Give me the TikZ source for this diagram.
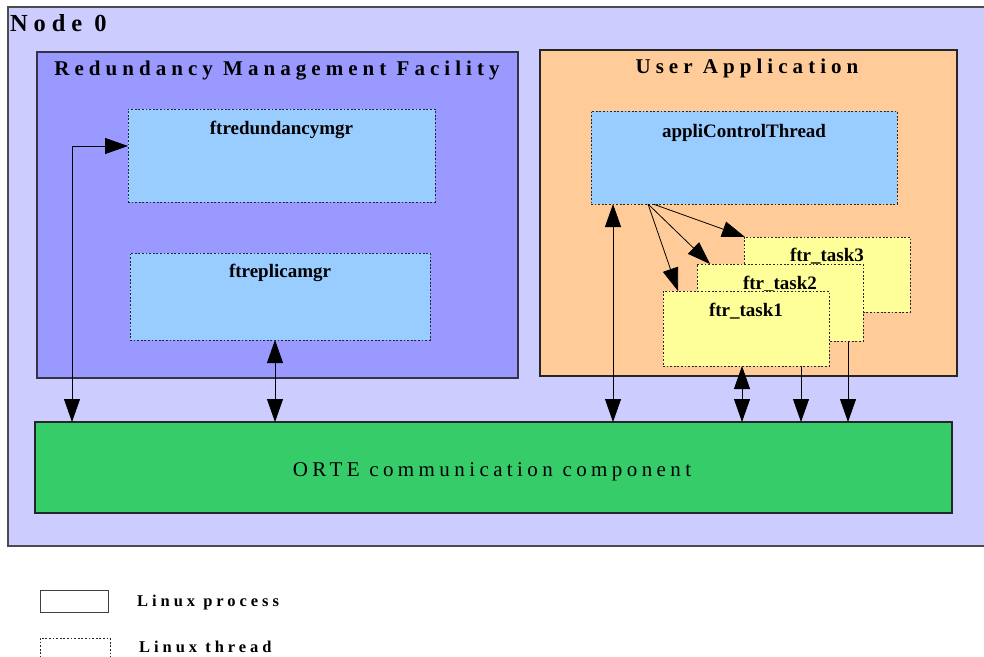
\documentclass[tikz,border=0pt]{standalone}
\usepackage{fontspec}
\setmainfont{Liberation Serif}
\newfontfamily\spacedfont[LetterSpace=24]{Liberation Serif}
\newfontfamily\widefont[LetterSpace=21]{Liberation Serif}
\usetikzlibrary{arrows.meta}
\pgfdeclarelayer{bg}
\pgfdeclarelayer{conn}
\pgfsetlayers{bg,conn,main}
\definecolor{nodebg}{HTML}{CCCCFF}
\definecolor{rmfbg}{HTML}{9999FF}
\definecolor{threadblue}{HTML}{99CCFF}
\definecolor{appbg}{HTML}{FFCC99}
\definecolor{taskbg}{HTML}{FFFF99}
\definecolor{ortebg}{HTML}{36CC6A}
\definecolor{edge}{HTML}{333344}
\tikzset{
  box/.style={draw=edge, line width=1.1pt, anchor=north west, inner sep=0pt, outer sep=0pt},
  thread/.style={draw=black!85, line width=0.9pt, dash pattern=on 1.8pt off 1.8pt,
    anchor=north west, inner sep=0pt, outer sep=0pt},
  boxtitle/.style={anchor=base, font=\spacedfont\bfseries\fontsize{21}{24}\selectfont, inner sep=0pt},
  threadname/.style={anchor=base, font=\bfseries\fontsize{19}{22}\selectfont, inner sep=0pt},
  legendtext/.style={anchor=base west, font=\spacedfont\bfseries\fontsize{16.5}{19}\selectfont, inner sep=0pt},
  onearrow/.style={line width=0.8pt, -{Triangle[length=23pt,width=16pt]}},
  twoarrow/.style={line width=0.8pt, {Triangle[length=23pt,width=16pt]}-{Triangle[length=23pt,width=16pt]}}
}
\begin{document}
\begin{tikzpicture}[x=1pt,y=-1pt]
\useasboundingbox (0,0) rectangle (984,656);
\clip (0,0) rectangle (984,656);

% containers
\begin{pgfonlayer}{bg}
  \node[box, draw=black!70, fill=nodebg, minimum width=1000, minimum height=539] (node0) at (8,7) {};
  \node[box, fill=rmfbg, minimum width=481, minimum height=326] (rmf) at (37,52) {};
  \node[box, draw=black!85, fill=appbg, minimum width=417, minimum height=326] (ua) at (540,50) {};
  \node[box, draw=black!85, fill=ortebg, minimum width=917, minimum height=91] (orte) at (35,422) {};
\end{pgfonlayer}

\node[anchor=base west, inner sep=0pt, font=\spacedfont\bfseries\fontsize{24.5}{28}\selectfont] (node0title) at (10,31) {Node 0};
\node[boxtitle] (rmftitle) at (277,75) {Redundancy Management Facility};
\node[boxtitle] (uatitle) at (747,73) {User Application};
\node[anchor=base, inner sep=0pt, font=\widefont\fontsize{21}{25}\selectfont] (ortetitle) at (492,476) {ORTE communication component};

% threads
\node[thread, fill=threadblue, minimum width=307, minimum height=93] (rm) at (128,109) {};
\node[threadname] (rmlabel) at ([yshift=-25]rm.north) {ftredundancymgr};
\node[thread, fill=threadblue, minimum width=300, minimum height=87] (rp) at (130,253) {};
\node[threadname] (rplabel) at ([yshift=-24]rp.north) {ftreplicamgr};
\node[thread, fill=threadblue, minimum width=306, minimum height=93] (act) at (591,111) {};
\node[threadname] (actlabel) at ([yshift=-26]act.north) {appliControlThread};

\node[thread, fill=taskbg, minimum width=166, minimum height=75] (t3) at (744,237) {};
\node[threadname] (t3label) at ([yshift=-24]t3.north) {ftr\_task3};
\node[thread, fill=taskbg, minimum width=166, minimum height=77] (t2) at (697,264) {};
\node[threadname] (t2label) at ([yshift=-25]t2.north) {ftr\_task2};
\node[thread, fill=taskbg, minimum width=166, minimum height=75] (t1) at (663,291) {};
\node[threadname] (t1label) at ([yshift=-25]t1.north) {ftr\_task1};

% connectors
\coordinate (rmbend) at (72,146);
\begin{pgfonlayer}{conn}
  \draw[twoarrow] (rm.west |- rmbend) -- (rmbend) -- (rmbend |- orte.north);
  \draw[twoarrow] ([xshift=145]rp.south west) -- ([xshift=145]rp.south west |- orte.north);
  \draw[twoarrow] ([xshift=22]act.south west) -- ([xshift=22]act.south west |- orte.north);
  \draw[twoarrow] ([xshift=79]t1.south west) -- ([xshift=79]t1.south west |- orte.north);
  \draw[onearrow] ([xshift=104]t2.south west) -- ([xshift=104]t2.south west |- orte.north);
  \draw[onearrow] ([xshift=104]t3.south west) -- ([xshift=104]t3.south west |- orte.north);
  \draw[onearrow] ([xshift=57]act.south west) -- ([xshift=15]t1.north west);
  \draw[onearrow] ([xshift=57]act.south west) -- ([xshift=13]t2.north west);
  \draw[onearrow] ([xshift=62]act.south west) -- ([xshift=1]t3.north west);
\end{pgfonlayer}

% legend
\node[box, draw=black!75, line width=0.9pt, minimum width=68, minimum height=22] (lproc) at (40,590) {};
\node[legendtext] (lproctext) at (137,606) {Linux process};
\node[thread, line width=0.8pt, minimum width=70, minimum height=22] (lthr) at (40,638) {};
\node[legendtext] (lthrtext) at (139,652) {Linux thread};
\end{tikzpicture}
\end{document}
